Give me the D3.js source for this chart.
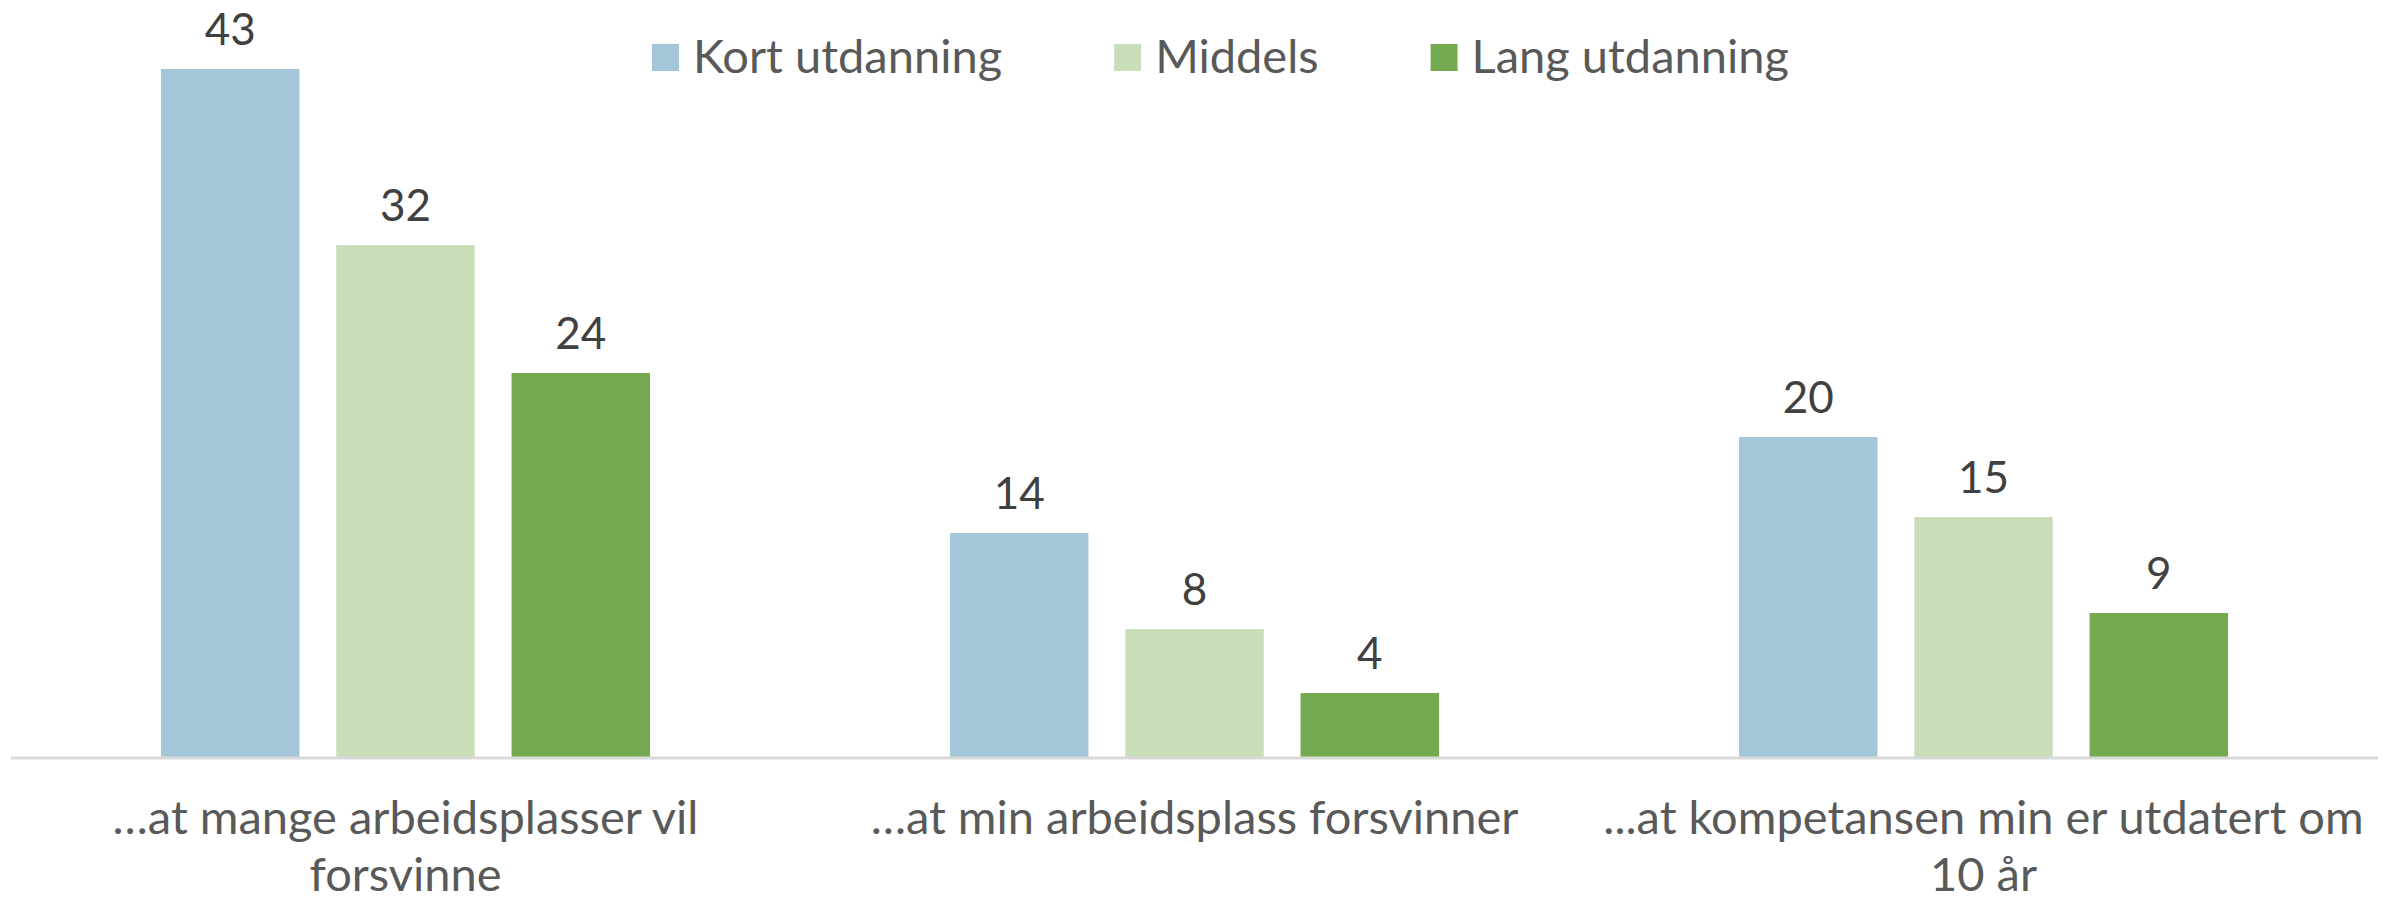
<!DOCTYPE html>
<html>
<head>
<meta charset="utf-8">
<script src="https://cdn.jsdelivr.net/npm/d3@7"></script>
<style>
  html, body { margin: 0; padding: 0; background: #fff; }
  svg text { font-family: Lato, "Open Sans", sans-serif; }
</style>
</head>
<body>
<svg id="chart"></svg>
<script>
const categories = [
  "…at mange arbeidsplasser vil\nforsvinne",
  "…at min arbeidsplass forsvinner",
  "...at kompetansen min er utdatert om\n10 år"
];
const seriesNames = ["Kort utdanning", "Middels", "Lang utdanning"];
const kortValues = [43, 14, 20];
const middelsValues = [32, 8, 15];
const langValues = [24, 4, 9];
const colors = ["#A3C6D9", "#C9DFB9", "#74AA50"];

const w = 2389;
const h = 903;
const margin = { left: 11, right: 11, top: 37, bottom: 146 };

const svg = d3.select("#chart").attr("width", w).attr("height", h);

const allValues = [kortValues, middelsValues, langValues];
const rows = categories.map((c, i) => ({
  category: c,
  values: seriesNames.map((s, j) => ({ series: s, value: allValues[j][i], color: colors[j] }))
}));

const x0 = d3.scaleBand()
  .domain(categories)
  .range([margin.left, w - margin.right])
  .paddingInner(0)
  .paddingOuter(0);

const x1 = d3.scaleBand()
  .domain(seriesNames)
  .range([150, x0.bandwidth() - 150])
  .paddingInner(0.21)
  .paddingOuter(0);

const y = d3.scaleLinear()
  .domain([0, 45])
  .range([h - margin.bottom, margin.top]);

// bars
const groups = svg.append("g")
  .selectAll("g")
  .data(rows)
  .join("g")
  .attr("transform", (d) => `translate(${x0(d.category)},0)`);

groups.selectAll("rect")
  .data((d) => d.values)
  .join("rect")
  .attr("x", (d) => x1(d.series))
  .attr("y", (d) => y(d.value))
  .attr("width", x1.bandwidth())
  .attr("height", (d) => y(0) - y(d.value))
  .attr("fill", (d) => d.color);

groups.selectAll("text.val")
  .data((d) => d.values)
  .join("text")
  .attr("class", "val")
  .attr("x", (d) => x1(d.series) + x1.bandwidth() / 2)
  .attr("y", (d) => y(d.value) - 24)
  .attr("text-anchor", "middle")
  .attr("fill", "#404040")
  .style("font-size", "44px")
  .text((d) => d.value);

// axis line
svg.append("line")
  .attr("x1", margin.left)
  .attr("x2", w - margin.right)
  .attr("y1", y(0) + 1)
  .attr("y2", y(0) + 1)
  .attr("stroke", "#D9D9D9")
  .attr("stroke-width", 3);

// category labels
const catLabels = svg.append("g")
  .selectAll("text")
  .data(categories)
  .join("text")
  .attr("text-anchor", "middle")
  .attr("fill", "#595959")
  .style("font-size", "47px")
  .attr("transform", (d) => `translate(${x0(d) + x0.bandwidth() / 2}, ${y(0) + 77})`);

catLabels.selectAll("tspan")
  .data((d) => d.split("\n"))
  .join("tspan")
  .attr("x", 0)
  .attr("y", (d, i) => i * 57)
  .text((d) => d);

// legend
const legend = svg.append("g").attr("transform", "translate(652, 44)");
let lx = 0;
seriesNames.forEach((s, i) => {
  const g = legend.append("g").attr("transform", `translate(${lx},0)`);
  g.append("rect")
    .attr("width", 27)
    .attr("height", 27)
    .attr("fill", colors[i]);
  const t = g.append("text")
    .attr("x", 41)
    .attr("y", 29)
    .attr("fill", "#595959")
    .style("font-size", "47px")
    .text(s);
  lx += 41 + t.node().getComputedTextLength() + 112;
});
</script>
</body>
</html>
